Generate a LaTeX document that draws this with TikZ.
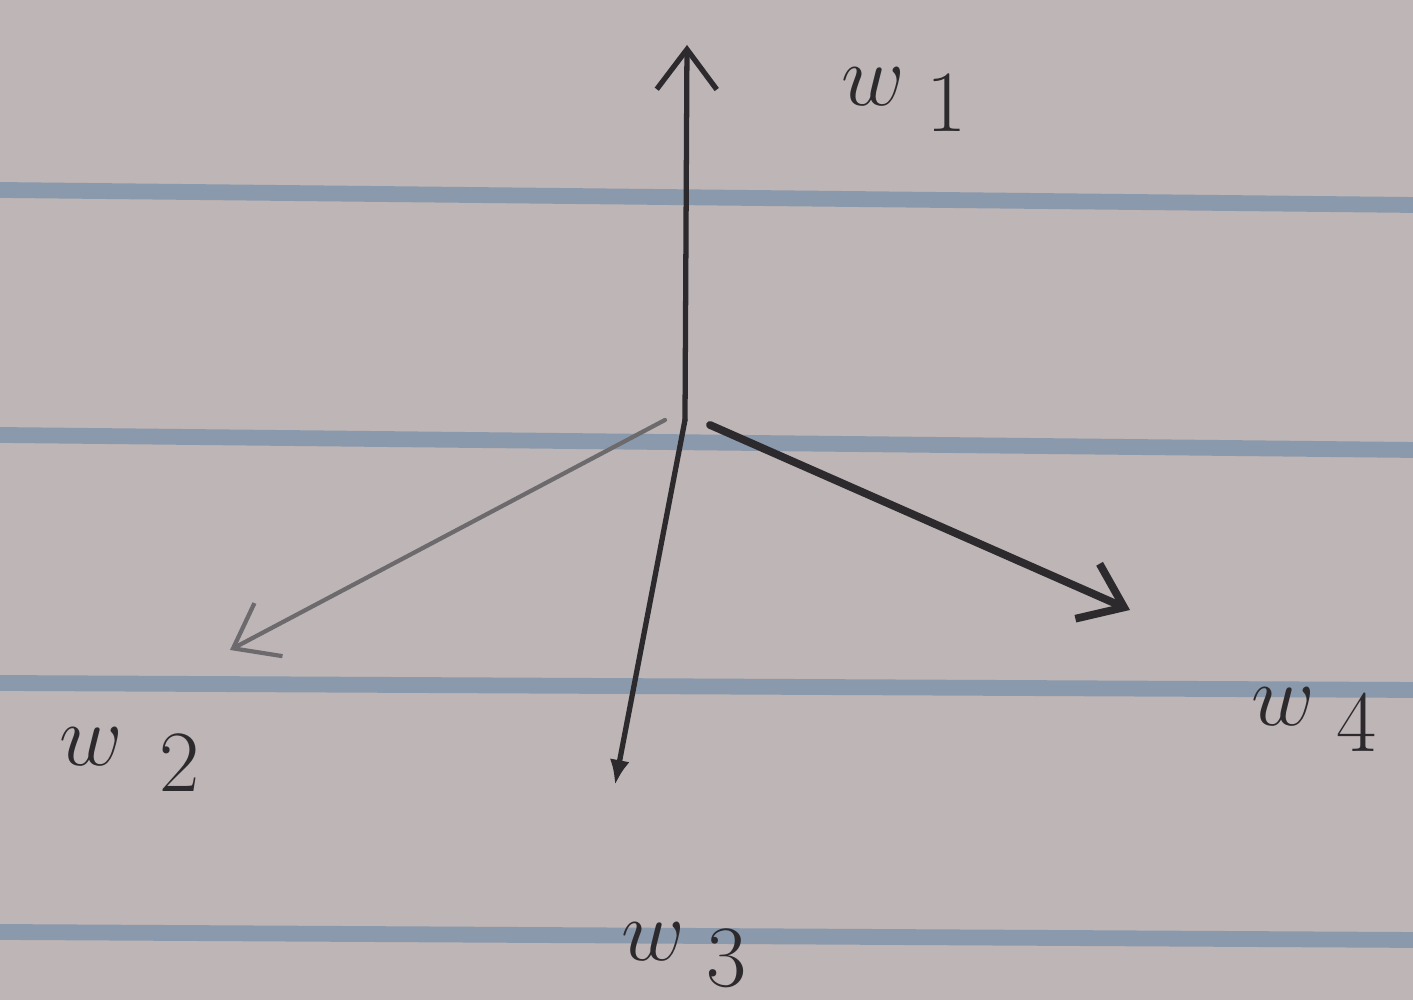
\documentclass[tikz,border=0pt]{standalone}
\usetikzlibrary{arrows.meta}
\definecolor{paper}{RGB}{190,181,182}
\definecolor{rule}{RGB}{138,154,172}
\definecolor{pen}{RGB}{45,42,46}
\begin{document}
\begin{tikzpicture}[every node/.style={align=center, text=pen, font=\fontsize{34}{38}\selectfont},
    vec/.style={pen, line width=1.5pt, line cap=round, -{Straight Barb[length=4mm, width=6mm]}}]
    \useasboundingbox (0,0) rectangle (14.13,10);
    \fill[paper] (0,0) rectangle (14.13,10);

    % ruled lines of the paper
    \draw[rule, line width=4.5pt] (0,8.10) -- (14.13,7.95);
    \draw[rule, line width=4.5pt] (0,5.65) -- (14.13,5.50);
    \draw[rule, line width=4.5pt] (0,3.17) -- (14.13,3.10);
    \draw[rule, line width=4.5pt] (0,0.68) -- (14.13,0.60);

    \coordinate (o) at (6.85,5.8);
    \coordinate (t1) at (6.87,9.55);
    \coordinate (t2) at (2.3,3.5);
    \coordinate (t3) at (6.15,2.15);
    \coordinate (t4) at (11.3,3.9);

    \draw[vec] (o) -- (t1);
    \draw[vec, pen!70, line width=1.2pt] ([xshift=-2mm]o) -- (t2);
    \draw[pen, line width=1.5pt, line cap=round, -{Latex[length=2.5mm, width=2mm]}] (o) -- (t3);
    \draw[vec, line width=2.2pt] ([xshift=2.5mm,yshift=-0.5mm]o) -- (t4);

    \node (w1) at (9.05,9.0) {$w_{\;1}$};
    \node (w2) at (1.3,2.4) {$w_{\;\,2}$};
    \node (w3) at (6.85,0.45) {$w_{\;3}$};
    \node (w4) at (13.15,2.8) {$w_{\;4}$};
\end{tikzpicture}
\end{document}
